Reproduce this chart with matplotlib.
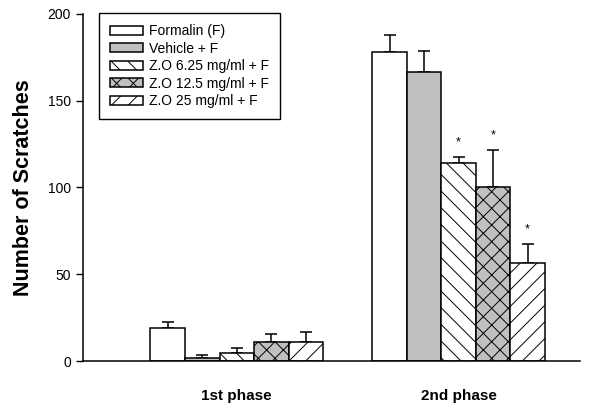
import numpy as np
import matplotlib
matplotlib.use("Agg")
import matplotlib.pyplot as plt

plt.rcParams['font.family'] = ['Liberation Sans', 'DejaVu Sans']
plt.rcParams['hatch.linewidth'] = 0.7

phases = ['1st phase', '2nd phase']
groups = ['Formalin (F)', 'Vehicle + F', 'Z.O 6.25 mg/ml + F',
          'Z.O 12.5 mg/ml + F', 'Z.O 25 mg/ml + F']
means = {
    'Formalin (F)':       [18.8, 178.0],
    'Vehicle + F':        [1.5, 166.7],
    'Z.O 6.25 mg/ml + F': [4.8, 114.3],
    'Z.O 12.5 mg/ml + F': [11.1, 100.5],
    'Z.O 25 mg/ml + F':   [11.1, 56.3],
}
errs = {
    'Formalin (F)':       [3.9, 10.0],
    'Vehicle + F':        [2.0, 12.1],
    'Z.O 6.25 mg/ml + F': [2.5, 3.4],
    'Z.O 12.5 mg/ml + F': [4.5, 21.1],
    'Z.O 25 mg/ml + F':   [5.4, 11.0],
}
# significance stars (2nd phase only)
star_groups = ['Z.O 6.25 mg/ml + F', 'Z.O 12.5 mg/ml + F', 'Z.O 25 mg/ml + F']

fills = ['white', '#c0c0c0', 'white', '#c0c0c0', 'white']
hatches = [None, None, '\\\\', 'xx', '//']

fig = plt.figure(figsize=(5.96, 4.07), dpi=100)
ax = fig.add_axes([0.139, 0.113, 0.834, 0.853])

x = np.arange(len(phases))
w = 0.1556
for i, g in enumerate(groups):
    pos = x + (i - 2) * w
    ax.bar(pos, means[g], width=w, color=fills[i], edgecolor='black',
           linewidth=1.1, hatch=hatches[i], label=g, zorder=2)
    ax.errorbar(pos, means[g], yerr=[np.zeros(2), errs[g]], fmt='none',
                ecolor='black', elinewidth=1.1, capsize=4, capthick=1.1, zorder=1)
    if g in star_groups:
        top = means[g][1] + errs[g][1]
        ax.text(pos[1], top + 5, '*', ha='center', va='bottom', fontsize=9)

ax.set_xlim(-0.694, 1.547)
ax.set_ylim(0, 200)
ax.set_yticks([0, 50, 100, 150, 200])
ax.set_xticks(x)
ax.set_xticklabels(phases, fontsize=11, fontweight='bold')
ax.tick_params(axis='x', length=0, pad=20)
ax.tick_params(axis='y', labelsize=10, length=5, width=1, direction='out')
ax.spines['top'].set_visible(False)
ax.spines['right'].set_visible(False)
ax.spines['left'].set_linewidth(1.1)
ax.spines['bottom'].set_linewidth(1.1)
ax.set_ylabel('Number of Scratches', fontsize=15.5, fontweight='bold', labelpad=10)

leg = ax.legend(loc='upper left', bbox_to_anchor=(0.032, 1.002), borderaxespad=0,
                fontsize=10, handlelength=2.4, handleheight=0.65,
                labelspacing=0.25, handletextpad=0.4, borderpad=0.8,
                fancybox=False, framealpha=1, edgecolor='black')
leg.get_frame().set_linewidth(1.0)

fig.savefig('out.png', dpi=100)
